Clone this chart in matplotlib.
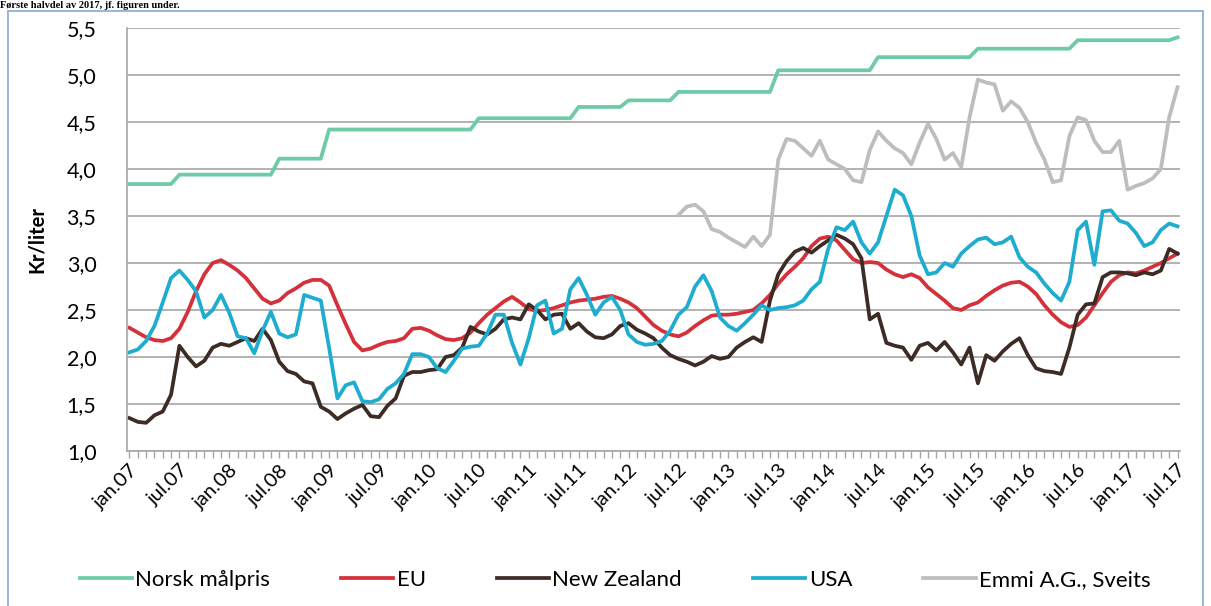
import numpy as np
import matplotlib
matplotlib.use("Agg")
import matplotlib.pyplot as plt
from matplotlib.patches import Rectangle
from matplotlib.ticker import FixedLocator, MultipleLocator
from matplotlib.transforms import ScaledTranslation

plt.rcParams['font.family'] = ['Lato', 'DejaVu Sans']

# monthly values, jan.07 .. jul.17 (127 months)
norsk = [3.84, 3.84, 3.84, 3.84, 3.84, 3.84, 3.94, 3.94, 3.94, 3.94, 3.94, 3.94,
         3.94, 3.94, 3.94, 3.94, 3.94, 3.94, 4.11, 4.11, 4.11, 4.11, 4.11, 4.11,
         4.42, 4.42, 4.42, 4.42, 4.42, 4.42, 4.42, 4.42, 4.42, 4.42, 4.42, 4.42,
         4.42, 4.42, 4.42, 4.42, 4.42, 4.42, 4.54, 4.54, 4.54, 4.54, 4.54, 4.54,
         4.54, 4.54, 4.54, 4.54, 4.54, 4.54, 4.66, 4.66, 4.66, 4.66, 4.66, 4.66,
         4.73, 4.73, 4.73, 4.73, 4.73, 4.73, 4.82, 4.82, 4.82, 4.82, 4.82, 4.82,
         4.82, 4.82, 4.82, 4.82, 4.82, 4.82, 5.05, 5.05, 5.05, 5.05, 5.05, 5.05,
         5.05, 5.05, 5.05, 5.05, 5.05, 5.05, 5.19, 5.19, 5.19, 5.19, 5.19, 5.19,
         5.19, 5.19, 5.19, 5.19, 5.19, 5.19, 5.28, 5.28, 5.28, 5.28, 5.28, 5.28,
         5.28, 5.28, 5.28, 5.28, 5.28, 5.28, 5.37, 5.37, 5.37, 5.37, 5.37, 5.37,
         5.37, 5.37, 5.37, 5.37, 5.37, 5.37, 5.40]

eu = [2.31, 2.26, 2.21, 2.18, 2.17, 2.20, 2.30, 2.48, 2.70, 2.88, 3.00, 3.03,
      2.98, 2.92, 2.84, 2.73, 2.62, 2.57, 2.60, 2.68, 2.73, 2.79, 2.82, 2.82,
      2.76, 2.55, 2.35, 2.16, 2.07, 2.09, 2.13, 2.16, 2.17, 2.20, 2.30, 2.31,
      2.28, 2.23, 2.19, 2.18, 2.20, 2.26, 2.36, 2.45, 2.52, 2.59, 2.64, 2.58,
      2.51, 2.49, 2.50, 2.52, 2.55, 2.58, 2.60, 2.61, 2.62, 2.64, 2.65, 2.62,
      2.58, 2.52, 2.43, 2.34, 2.28, 2.24, 2.22, 2.26, 2.33, 2.39, 2.44, 2.45,
      2.45, 2.46, 2.48, 2.50, 2.57, 2.66, 2.78, 2.88, 2.96, 3.05, 3.18, 3.26,
      3.28, 3.24, 3.14, 3.04, 3.00, 3.01, 3.00, 2.93, 2.88, 2.85, 2.88, 2.84,
      2.74, 2.67, 2.60, 2.52, 2.50, 2.55, 2.58, 2.65, 2.71, 2.76, 2.79, 2.80,
      2.75, 2.67, 2.55, 2.45, 2.37, 2.32, 2.34, 2.42, 2.55, 2.68, 2.80, 2.87,
      2.90, 2.89, 2.92, 2.96, 3.00, 3.05, 3.10]

nz = [1.35, 1.31, 1.30, 1.38, 1.42, 1.60, 2.12, 2.00, 1.90, 1.96, 2.10, 2.14,
      2.12, 2.16, 2.20, 2.17, 2.30, 2.18, 1.95, 1.85, 1.82, 1.74, 1.72, 1.47,
      1.42, 1.34, 1.40, 1.45, 1.49, 1.37, 1.36, 1.48, 1.56, 1.80, 1.84, 1.84,
      1.86, 1.87, 2.00, 2.02, 2.10, 2.32, 2.27, 2.24, 2.30, 2.40, 2.42, 2.40,
      2.56, 2.50, 2.40, 2.45, 2.46, 2.30, 2.36, 2.27, 2.21, 2.20, 2.24, 2.33,
      2.36, 2.29, 2.25, 2.20, 2.10, 2.02, 1.98, 1.95, 1.91, 1.95, 2.01, 1.98,
      2.00, 2.10, 2.16, 2.21, 2.16, 2.60, 2.88, 3.02, 3.12, 3.16, 3.11, 3.18,
      3.24, 3.30, 3.26, 3.20, 3.05, 2.40, 2.46, 2.15, 2.12, 2.10, 1.97, 2.12,
      2.15, 2.07, 2.16, 2.05, 1.92, 2.10, 1.72, 2.02, 1.96, 2.06, 2.14, 2.20,
      2.02, 1.88, 1.85, 1.84, 1.82, 2.10, 2.45, 2.56, 2.57, 2.85, 2.90, 2.90,
      2.89, 2.87, 2.90, 2.88, 2.92, 3.15, 3.10]

usa = [2.05, 2.08, 2.17, 2.33, 2.58, 2.84, 2.92, 2.82, 2.70, 2.42, 2.50, 2.66,
       2.47, 2.22, 2.20, 2.04, 2.28, 2.48, 2.25, 2.21, 2.24, 2.66, 2.63, 2.60,
       2.10, 1.56, 1.70, 1.73, 1.53, 1.52, 1.55, 1.66, 1.72, 1.82, 2.03, 2.03,
       2.00, 1.88, 1.84, 1.96, 2.09, 2.11, 2.12, 2.25, 2.45, 2.45, 2.15, 1.92,
       2.20, 2.55, 2.60, 2.25, 2.30, 2.72, 2.84, 2.66, 2.45, 2.58, 2.64, 2.50,
       2.24, 2.16, 2.13, 2.14, 2.17, 2.28, 2.45, 2.53, 2.75, 2.87, 2.70, 2.42,
       2.33, 2.28, 2.36, 2.45, 2.55, 2.50, 2.52, 2.53, 2.55, 2.60, 2.72, 2.80,
       3.15, 3.38, 3.35, 3.44, 3.22, 3.10, 3.22, 3.50, 3.78, 3.72, 3.50, 3.08,
       2.88, 2.90, 3.00, 2.96, 3.10, 3.18, 3.25, 3.27, 3.20, 3.22, 3.28, 3.06,
       2.96, 2.90, 2.78, 2.68, 2.60, 2.80, 3.35, 3.44, 2.98, 3.55, 3.56, 3.45,
       3.42, 3.32, 3.18, 3.22, 3.35, 3.42, 3.39]

# Emmi from jul.12 (month 66) .. jul.17
emmi = [3.51, 3.60, 3.62, 3.55, 3.36, 3.33,
        3.27, 3.22, 3.17, 3.28, 3.18, 3.30, 4.10, 4.32, 4.30, 4.22, 4.14, 4.30,
        4.10, 4.05, 4.00, 3.88, 3.86, 4.20, 4.40, 4.30, 4.22, 4.17, 4.05, 4.28,
        4.48, 4.32, 4.10, 4.17, 4.02, 4.55, 4.95, 4.92, 4.90, 4.62, 4.72, 4.65,
        4.50, 4.28, 4.10, 3.86, 3.88, 4.35, 4.55, 4.52, 4.30, 4.18, 4.18, 4.30,
        3.78, 3.82, 3.85, 3.90, 4.00, 4.55, 4.87]

tick_labels = []
for yr in range(7, 18):
    tick_labels += ['jan.%02d' % yr, 'jul.%02d' % yr]
tick_labels = tick_labels[:22]

months = np.arange(len(norsk))
emmi_months = np.arange(66, 66 + len(emmi))

fig = plt.figure(figsize=(12.11, 6.06), dpi=100)
ax = fig.add_axes([127 / 1211, 1 - 451 / 606, (1180 - 127) / 1211, (451 - 28) / 606])

lw = 2.7
ax.plot(months, norsk, color='#6dcba6', lw=lw, label='Norsk målpris')
ax.plot(months, eu, color='#d4313b', lw=lw, label='EU')
ax.plot(months, nz, color='#3d2c25', lw=lw, label='New Zealand')
ax.plot(months, usa, color='#1eaccf', lw=lw, label='USA')
ax.plot(emmi_months, emmi, color='#bdbdbd', lw=lw, label='Emmi A.G., Sveits')

ax.set_xlim(-0.3, 126.3)
ax.set_ylim(1.0, 5.5)
ax.set_yticks(np.arange(1.0, 5.51, 0.5))
ax.set_yticklabels([('%.1f' % v).replace('.', ',') for v in np.arange(1.0, 5.51, 0.5)])
ax.yaxis.grid(True, color='#a6a6a6', lw=1.2)
ax.set_axisbelow(True)
ax.tick_params(axis='y', length=0, pad=22, labelsize=15.5)

ax.xaxis.set_major_locator(FixedLocator(np.arange(0, 127, 6)))
ax.set_xticklabels(tick_labels, rotation=45, ha='right', va='center',
                   rotation_mode='anchor', fontsize=14.5)
ax.xaxis.set_minor_locator(MultipleLocator(1))
ax.tick_params(axis='x', which='both', length=5, color='#a6a6a6', width=1, pad=7)
shift = ScaledTranslation(6 / 100, 0, fig.dpi_scale_trans)
for lab in ax.get_xticklabels():
    lab.set_transform(lab.get_transform() + shift)

for s in ['top', 'right']:
    ax.spines[s].set_visible(False)
for s in ['left', 'bottom']:
    ax.spines[s].set_color('#a6a6a6')
    ax.spines[s].set_linewidth(1.2)

ax.set_ylabel('Kr/liter', fontsize=14.5, fontweight='bold', labelpad=14)

fig.legend(loc='center', bbox_to_anchor=(615 / 1211, 1 - 580 / 606), ncol=5,
           frameon=False, fontsize=16, handlelength=2.35, handletextpad=0.15,
           columnspacing=3.2)

# outer frame and the text line above it
fig.patches.append(Rectangle((8 / 1211, -0.01), (1203 - 8) / 1211, 1 - 11 / 606 + 0.01,
                             transform=fig.transFigure, fill=False,
                             edgecolor='#8fb1d6', lw=1.3))
fig.text(0.0, 1 - 0.5 / 606, 'Første halvdel av 2017, jf. figuren under.',
         family='Liberation Serif', fontweight='bold', fontsize=7.5, va='top')

fig.savefig('out.png', dpi=100)
